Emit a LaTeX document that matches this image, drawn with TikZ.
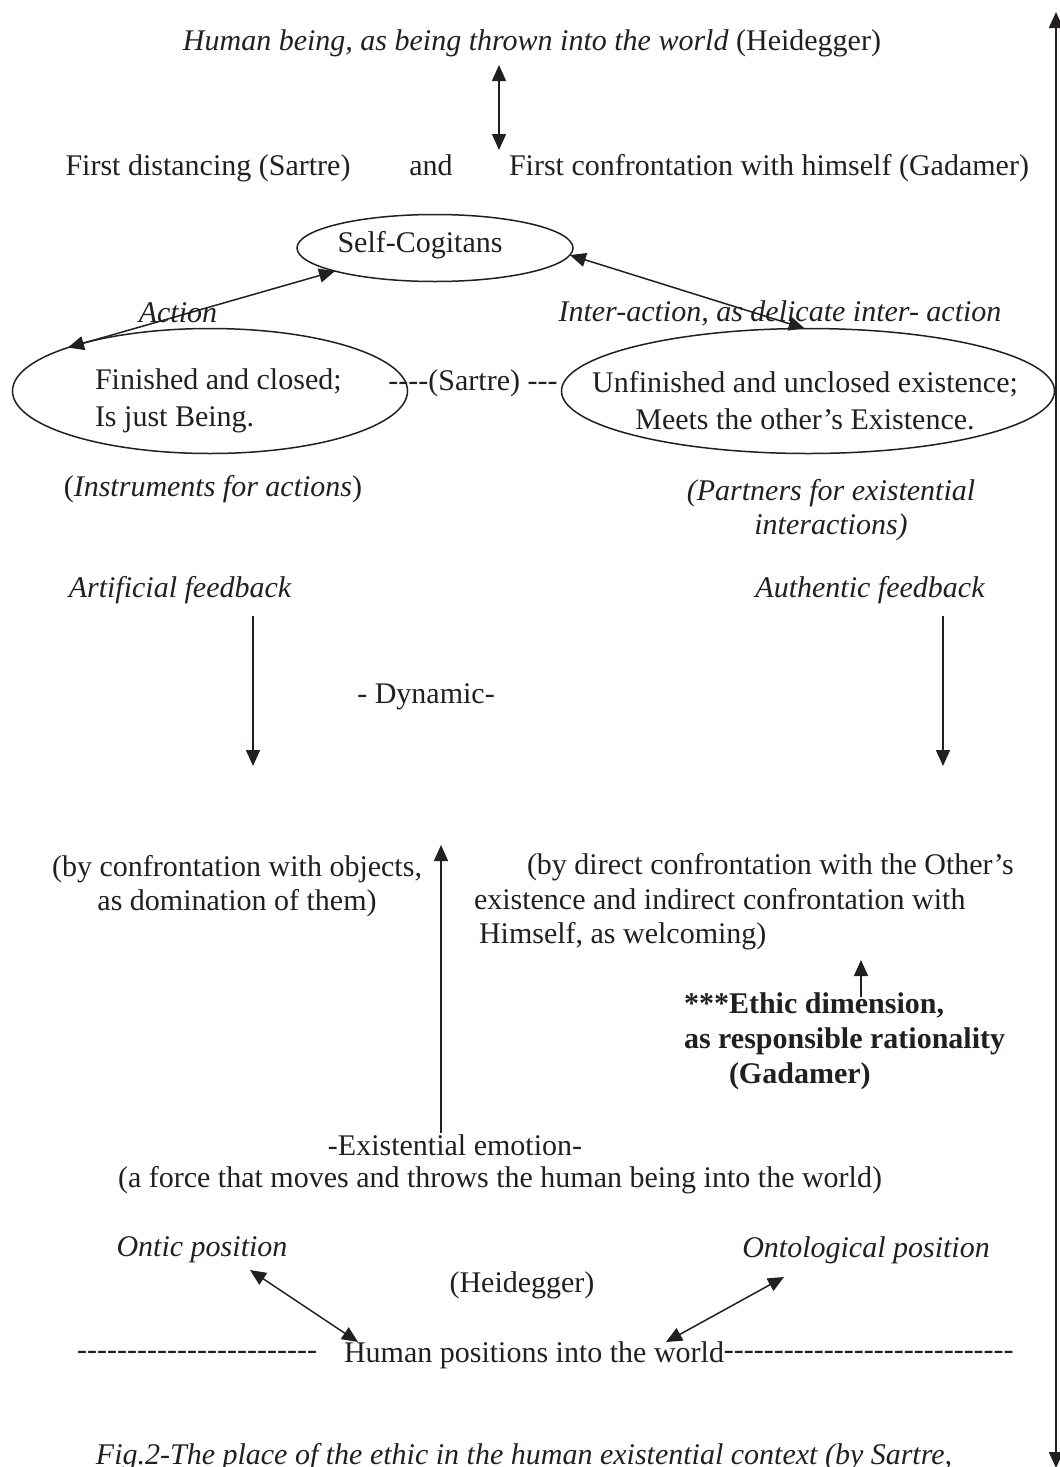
\documentclass[tikz,border=0pt]{standalone}
\usepackage{fontspec}
\setmainfont{Liberation Serif}[Ligatures=TeXOff]
\usetikzlibrary{arrows.meta,shapes.geometric}
\definecolor{ink}{RGB}{35,31,32}

\begin{document}
\begin{tikzpicture}[x=1pt,y=-1pt,>={Triangle[length=16pt,width=14pt]},
  every node/.style={inner sep=0pt,outer sep=0pt,text=ink,font=\fontsize{30}{34.5}\selectfont},
  em/.style={font=\fontsize{30}{34.5}\selectfont\itshape},
  strong/.style={font=\fontsize{30}{35}\selectfont\bfseries},
  oval/.style={draw=ink,ellipse,line width=1.5pt},
  link/.style={draw=ink,line width=1.5pt}]
  \useasboundingbox (0,0) rectangle (1060,1467);

  % top of the scheme
  \node (thrown) at (532,43) {\emph{Human being, as being thrown into the world} (Heidegger)};
  \node (distancing) at (208,168) {First distancing (Sartre)};
  \node[anchor=base] (and) at (distancing.base -| 431,0) {and};
  \node (confront) at (769,168) {First confrontation with himself (Gadamer)};
  \coordinate (thrownend) at (499,65);
  \coordinate (confrontend) at (499,150);
  \draw[link,<->] (thrownend) -- (confrontend);

  % the three ellipses
  \node[oval,minimum width=276pt,minimum height=67pt] (cogitans) at (435,248) {};
  \node (cogitanstxt) at (420,245) {Self-Cogitans};
  \node[oval,minimum width=395pt,minimum height=125pt] (closed) at (210,391) {};
  \node[align=left,anchor=west,font=\fontsize{30}{37}\selectfont] (closedtxt) at (95,401) {Finished and closed;\\Is just Being.};
  \node[oval,minimum width=493pt,minimum height=125pt] (unclosed) at (808,391) {};
  \node[align=center,font=\fontsize{30}{37}\selectfont] (unclosedtxt) at (805,401) {Unfinished and unclosed existence;\\Meets the other’s Existence.};
  \node (sartre) at (473,383) {----(Sartre) ---};
  \node[em] (action) at (178,313) {Action};
  \node[em] (interaction) at (780,313) {Inter-action, as delicate inter- action};
  \draw[link,<->] (closed.163) -- (cogitans.193);
  \draw[link,<->] (cogitans.-3) -- (unclosed.93);

  \node (instruments) at (213,489) {(\emph{Instruments for actions})};
  \node[em,align=center] (partners) at (831,510) {(Partners for existential\\interactions)};

  % feedback
  \node[em] (artificial) at (180,590) {Artificial feedback};
  \node[em] (authentic) at (870,590) {Authentic feedback};
  \coordinate (artstart) at (253,616);
  \coordinate (artend) at (253,766);
  \coordinate (autstart) at (943,616);
  \coordinate (autend) at (943,766);
  \draw[link,->] (artstart) -- (artend);
  \draw[link,->] (autstart) -- (autend);
  \node (dynamic) at (426,697) {- Dynamic-};

  \node[align=center] (objects) at (237,886) {(by confrontation with objects,\\as domination of them)};
  \node[align=left,anchor=west] (other) at (474,902) {\hspace*{53pt}(by direct confrontation with the Other’s\\existence and indirect confrontation with\\\hspace*{5pt}Himself, as welcoming)};
  \node[strong,align=left,anchor=west] (ethic) at (684,1041) {***Ethic dimension,\\as responsible rationality\\\hspace*{45pt}(Gadamer)};
  \coordinate (ethicstart) at (861,997);
  \coordinate (ethicend) at (861,960);
  \draw[link,->] (ethicstart) -- (ethicend);

  % emotion
  \node (emotion) at (455,1145) {-Existential emotion-};
  \node (force) at (500,1180) {(a force that moves and throws the human being into the world)};
  \coordinate (emostart) at (441,1133);
  \coordinate (emoend) at (441,845);
  \draw[link,->] (emostart) -- (emoend);

  % positions
  \node[em] (ontic) at (202,1250) {Ontic position};
  \node[em] (ontological) at (866,1250) {Ontological position};
  \node (heidegger) at (522,1285) {(Heidegger)};
  \node (positions) at (534,1355) {Human positions into the world};
  \node[anchor=east] (leftdash) at ([xshift=-27pt]positions.west) {------------------------};
  \node[anchor=west] (rightdash) at (positions.east) {-----------------------------};
  \coordinate (onticend) at (250,1270);
  \coordinate (posleft) at (358,1342);
  \coordinate (ontoend) at (784,1277);
  \coordinate (posright) at (666,1342);
  \draw[link,<->] (onticend) -- (posleft);
  \draw[link,<->] (ontoend) -- (posright);

  \node[em] (caption) at (524,1457) {Fig.2-The place of the ethic in the human existential context (by Sartre,};

  % right border
  \coordinate (borderup) at (1056,12);
  \coordinate (borderdown) at (1056,1468);
  \draw[link,line width=2pt,<->] (borderup) -- (borderdown);
\end{tikzpicture}
\end{document}
